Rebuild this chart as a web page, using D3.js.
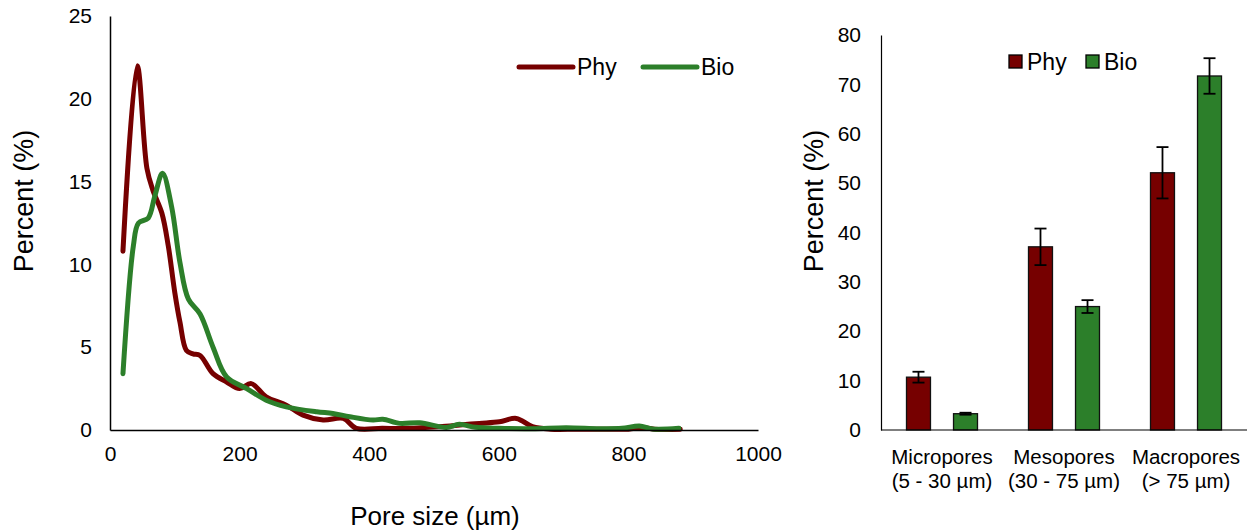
<!DOCTYPE html>
<html>
<head>
<meta charset="UTF-8">
<title>Pore size</title>
<style>
body { margin: 0; background: #fff; }
text { font-family: "Liberation Sans", Arial, sans-serif; fill: #000; }
</style>
</head>
<body>
<svg width="1251" height="531"></svg>
<script src="https://cdn.jsdelivr.net/npm/d3@7"></script>
<script>
// pore size distribution
var phyDist = [[20,10.8],[42,22],[57,15.8],[66,14.5],[80,13.1],[90,11.1],[100,8.3],[108,6.5],[118,4.8],[128,4.6],[139,4.5],[159,3.4],[180,2.9],[200,2.5],[218,2.8],[241,2.0],[272,1.5],[298,0.9],[329,0.6],[360,0.7],[380,0.1],[420,0.1],[460,0.1],[508,0.2],[540,0.3],[570,0.4],[601,0.5],[627,0.7],[652,0.2],[680,0.05],[720,0.05],[760,0.05],[800,0.05],[820,0.15],[840,0.05],[880,0.05]];
var bioDist = [[20,3.4],[36,11.1],[44,12.5],[59,12.8],[69,14.1],[81,15.5],[95,13.5],[108,10.1],[121,7.9],[139,7.0],[159,5.0],[180,3.2],[211,2.5],[241,1.8],[272,1.4],[319,1.1],[344,1.0],[370,0.8],[406,0.6],[421,0.65],[447,0.4],[478,0.44],[519,0.15],[539,0.34],[564,0.16],[600,0.1],[652,0.08],[704,0.14],[755,0.08],[790,0.1],[817,0.24],[837,0.06],[878,0.1]];

// pore class percentages
var classes = ["Micropores\n(5 - 30 µm)", "Mesopores\n(30 - 75 µm)", "Macropores\n(> 75 µm)"];
var series = ["Phy", "Bio"];
var phyPct = [10.7, 37.1, 52.1];
var bioPct = [3.3, 25.0, 71.7];
var phyErr = [1.1, 3.7, 5.2];
var bioErr = [0.2, 1.3, 3.6];

var colPhy = "#760000", colBio = "#2c7f2a";
var colors = {Phy: colPhy, Bio: colBio};

var svg = d3.select("svg");

// ---- left: line chart
var x = d3.scaleLinear().domain([0, 1000]).range([110, 758]);
var y = d3.scaleLinear().domain([0, 25]).range([430, 16]);

var line = d3.line()
  .x(function(d) { return x(d[0]); })
  .y(function(d) { return y(d[1]); })
  .curve(d3.curveCatmullRom.alpha(0.5));

svg.append("path").datum(phyDist)
  .attr("d", line).attr("fill", "none")
  .attr("stroke", colPhy).attr("stroke-width", 5).attr("stroke-linecap", "round").attr("stroke-linejoin", "round");
svg.append("path").datum(bioDist)
  .attr("d", line).attr("fill", "none")
  .attr("stroke", colBio).attr("stroke-width", 5).attr("stroke-linecap", "round").attr("stroke-linejoin", "round");

var xAx = svg.append("g").attr("transform", "translate(0,430)")
  .call(d3.axisBottom(x).tickValues([0,200,400,600,800,1000]).tickFormat(d3.format("d")).tickSize(0).tickPadding(16));
var yAx = svg.append("g").attr("transform", "translate(110,0)")
  .call(d3.axisLeft(y).tickValues([0,5,10,15,20,25]).tickSize(0).tickPadding(18));
[xAx, yAx].forEach(function(a) {
  a.select(".domain").attr("stroke", "#000").attr("stroke-width", 1.5);
  a.selectAll("text").style("font-size", "21px").attr("fill", "#000");
});

svg.append("text").attr("x", 435).attr("y", 525).attr("text-anchor", "middle")
  .style("font-size", "26px").text("Pore size (µm)");
svg.append("text").attr("transform", "translate(33,201) rotate(-90)").attr("text-anchor", "middle")
  .style("font-size", "27px").text("Percent (%)");

// line legend
var lg = svg.append("g").selectAll("g").data(series).enter().append("g")
  .attr("transform", function(d, i) { return "translate(" + (519 + i * 124) + ",67)"; });
lg.append("line").attr("x1", 0).attr("x2", 54).attr("y1", 0).attr("y2", 0)
  .attr("stroke", function(d) { return colors[d]; }).attr("stroke-width", 5).attr("stroke-linecap", "round");
lg.append("text").attr("x", 58).attr("y", 8).style("font-size", "23px").text(function(d) { return d; });

// ---- right: bar chart
var x0 = d3.scaleBand().domain(classes).range([881, 1247]);
var x1 = d3.scaleBand().domain(series).range([-35.5, 35.5]).paddingInner(0.49);
var y2 = d3.scaleLinear().domain([0, 80]).range([430, 35]);

var rows = [];
classes.forEach(function(c, i) {
  rows.push({c: c, s: "Phy", v: phyPct[i], e: phyErr[i]});
  rows.push({c: c, s: "Bio", v: bioPct[i], e: bioErr[i]});
});

svg.append("g").selectAll("rect").data(rows).enter().append("rect")
  .attr("x", function(d) { return x0(d.c) + x0.bandwidth() / 2 + x1(d.s); })
  .attr("y", function(d) { return y2(d.v); })
  .attr("width", x1.bandwidth())
  .attr("height", function(d) { return y2(0) - y2(d.v); })
  .attr("fill", function(d) { return colors[d.s]; })
  .attr("stroke", "#111").attr("stroke-width", 1.3);

var eb = svg.append("g").selectAll("g").data(rows).enter().append("g")
  .attr("transform", function(d) { return "translate(" + (x0(d.c) + x0.bandwidth() / 2 + x1(d.s) + x1.bandwidth() / 2) + ",0)"; });
eb.append("line").attr("y1", function(d) { return y2(d.v + d.e); }).attr("y2", function(d) { return y2(d.v - d.e); })
  .attr("stroke", "#000").attr("stroke-width", 1.8);
eb.append("line").attr("x1", -6).attr("x2", 6).attr("y1", function(d) { return y2(d.v + d.e); }).attr("y2", function(d) { return y2(d.v + d.e); })
  .attr("stroke", "#000").attr("stroke-width", 1.8);
eb.append("line").attr("x1", -6).attr("x2", 6).attr("y1", function(d) { return y2(d.v - d.e); }).attr("y2", function(d) { return y2(d.v - d.e); })
  .attr("stroke", "#000").attr("stroke-width", 1.8);

var yAx2 = svg.append("g").attr("transform", "translate(881,0)")
  .call(d3.axisLeft(y2).tickValues(d3.range(0, 81, 10)).tickSize(0).tickPadding(20));
yAx2.select(".domain").attr("stroke", "#000").attr("stroke-width", 1.2);
yAx2.selectAll("text").style("font-size", "21px").attr("fill", "#000");

svg.append("line").attr("x1", 881).attr("x2", 1247).attr("y1", 430).attr("y2", 430)
  .attr("stroke", "#000").attr("stroke-width", 1.2);

var cl = svg.append("g").selectAll("text").data(classes).enter().append("text")
  .attr("x", function(d) { return x0(d) + x0.bandwidth() / 2; })
  .attr("text-anchor", "middle").style("font-size", "20.5px");
cl.selectAll("tspan").data(function(d) { return d.split("\n"); }).enter().append("tspan")
  .attr("x", function() { return d3.select(this.parentNode).attr("x"); })
  .attr("y", function(d, i) { return 464 + i * 24; })
  .text(function(d) { return d; });

svg.append("text").attr("transform", "translate(823,201) rotate(-90)").attr("text-anchor", "middle")
  .style("font-size", "27px").text("Percent (%)");

var bl = svg.append("g").selectAll("g").data(series).enter().append("g")
  .attr("transform", function(d, i) { return "translate(" + (1009 + i * 77) + ",55)"; });
bl.append("rect").attr("width", 13).attr("height", 13)
  .attr("fill", function(d) { return colors[d]; }).attr("stroke", "#000").attr("stroke-width", 1.3);
bl.append("text").attr("x", 18).attr("y", 15).style("font-size", "23px").text(function(d) { return d; });
</script>
</body>
</html>
